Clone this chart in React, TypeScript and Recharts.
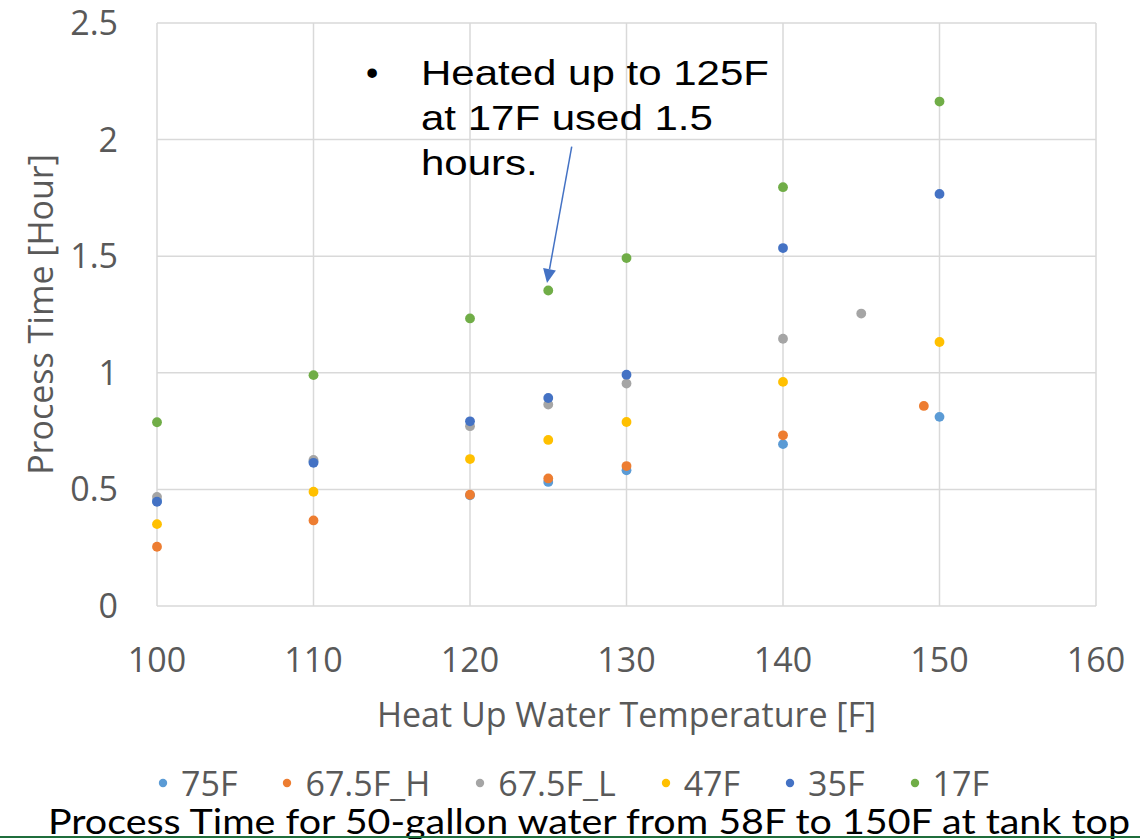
import React from 'react';
import { ScatterChart, Scatter, XAxis, YAxis, CartesianGrid, ReferenceLine } from 'recharts';

// Axis ticks
const xTicks = [100, 110, 120, 130, 140, 150, 160];
const yTicks = [0, 0.5, 1, 1.5, 2, 2.5];

// Series (ambient temperature) names and colours
const seriesNames = ['75F', '67.5F_H', '67.5F_L', '47F', '35F', '17F'];
const seriesColors = ['#5B9BD5', '#ED7D31', '#A5A5A5', '#FFC000', '#4472C4', '#70AD47'];

// Heat-up water temperature [F] and process time [hour] per series
const temps75F = [100, 110, 120, 125, 130, 140, 150];
const hours75F = [0.45, 0.62, 0.475, 0.532, 0.582, 0.694, 0.811];

const temps675H = [100, 110, 120, 125, 130, 140, 149];
const hours675H = [0.254, 0.367, 0.477, 0.547, 0.6, 0.732, 0.858];

const temps675L = [100, 110, 120, 125, 130, 140, 145];
const hours675L = [0.468, 0.626, 0.771, 0.864, 0.954, 1.146, 1.254];

const temps47F = [100, 110, 120, 125, 130, 140, 150];
const hours47F = [0.351, 0.49, 0.63, 0.712, 0.789, 0.961, 1.132];

const temps35F = [100, 110, 120, 125, 130, 140, 150];
const hours35F = [0.447, 0.614, 0.792, 0.892, 0.992, 1.535, 1.767];

const temps17F = [100, 110, 120, 125, 130, 140, 150];
const hours17F = [0.788, 0.99, 1.233, 1.353, 1.492, 1.796, 2.163];

// Callout arrow endpoints in data units
const arrowFrom = { x: 126.5, y: 1.97 };
const arrowTo = { x: 124.92, y: 1.385 };

const seriesTemps = [temps75F, temps675H, temps675L, temps47F, temps35F, temps17F];
const seriesHours = [hours75F, hours675H, hours675L, hours47F, hours35F, hours17F];

const seriesData = seriesNames.map((name, i) => ({
  name,
  color: seriesColors[i],
  points: seriesTemps[i].map((t, j) => ({ temp: t, hours: seriesHours[i][j] })),
}));

const FONT = '"Open Sans", Lato, sans-serif';
const GRAY = '#595959';

const Dot = (color: string) => (props: any) => (
  <circle cx={props.cx} cy={props.cy} r={4.9} fill={color} />
);

const ArrowShape = (props: any) => {
  const { x1, y1, x2, y2 } = props;
  const dx = x2 - x1;
  const dy = y2 - y1;
  const len = Math.sqrt(dx * dx + dy * dy);
  const ux = dx / len;
  const uy = dy / len;
  const headLen = 14;
  const headW = 6.5;
  const bx = x2 - ux * headLen;
  const by = y2 - uy * headLen;
  const px = -uy;
  const py = ux;
  return (
    <g>
      <line x1={x1} y1={y1} x2={bx} y2={by} stroke="#4472C4" strokeWidth={1.5} />
      <polygon
        points={`${x2},${y2} ${bx + px * headW},${by + py * headW} ${bx - px * headW},${by - py * headW}`}
        fill="#4472C4"
      />
    </g>
  );
};

const XTitle = (props: any) => {
  const vb = props.viewBox;
  return (
    <text
      x={vb.x + vb.width / 2}
      y={vb.y + 121}
      textAnchor="middle"
      fill={GRAY}
      fontSize={34}
      fontFamily={FONT}
    >
      Heat Up Water Temperature [F]
    </text>
  );
};

const YTitle = (props: any) => {
  const vb = props.viewBox;
  const cx = 53;
  const cy = vb.y + vb.height / 2;
  return (
    <text
      x={cx}
      y={cy}
      textAnchor="middle"
      transform={`rotate(-90, ${cx}, ${cy})`}
      fill={GRAY}
      fontSize={34}
      fontFamily={FONT}
    >
      Process Time [Hour]
    </text>
  );
};

export default function App() {
  return (
    <div style={{ position: 'absolute', left: 0, top: 0, width: 1147, height: 839, background: '#fff', overflow: 'hidden' }}>
      <ScatterChart width={1147} height={839} margin={{ top: 23, right: 51, bottom: 133, left: 0 }}>
        <CartesianGrid stroke="#d9d9d9" strokeWidth={1.5} />
        <XAxis
          type="number"
          dataKey="temp"
          domain={[100, 160]}
          ticks={xTicks}
          axisLine={false}
          tickLine={false}
          tickSize={0}
          tickMargin={42}
          height={100}
          tick={{ fill: GRAY, fontSize: 34, fontFamily: FONT }}
          label={XTitle}
        />
        <YAxis
          type="number"
          dataKey="hours"
          domain={[0, 2.5]}
          ticks={yTicks}
          axisLine={false}
          tickLine={false}
          tickSize={0}
          tickMargin={39}
          width={157}
          tick={{ fill: GRAY, fontSize: 34, fontFamily: FONT }}
          label={YTitle}
        />
        {seriesData.map((s) => (
          <Scatter
            key={s.name}
            name={s.name}
            data={s.points}
            fill={s.color}
            shape={Dot(s.color)}
            isAnimationActive={false}
          />
        ))}
        <ReferenceLine
          segment={[arrowFrom, arrowTo]}
          ifOverflow="visible"
          shape={ArrowShape}
        />
      </ScatterChart>

      {/* Callout note */}
      <div
        style={{
          position: 'absolute',
          left: 366,
          top: 50,
          fontFamily: '"Liberation Sans", Arial, sans-serif',
          fontSize: 35,
          lineHeight: '45px',
          color: '#000',
        }}
      >
        •
      </div>
      <div
        style={{
          position: 'absolute',
          left: 421,
          top: 50,
          fontFamily: '"Liberation Sans", Arial, sans-serif',
          fontSize: 35,
          lineHeight: '45px',
          color: '#000',
          transform: 'scaleX(1.2)',
          transformOrigin: 'left top',
          whiteSpace: 'nowrap',
        }}
      >
        Heated up to 125F
        <br />
        at 17F used 1.5
        <br />
        hours.
      </div>

      {/* Legend */}
      <div
        style={{
          position: 'absolute',
          left: 0,
          top: 768,
          width: 1147,
          display: 'flex',
          justifyContent: 'center',
          fontFamily: FONT,
          fontSize: 34,
          color: GRAY,
          lineHeight: '30px',
        }}
      >
        {seriesData.map((s, i) => (
          <div
            key={s.name}
            style={{ display: 'flex', alignItems: 'center', marginLeft: i === 0 ? 0 : 45 }}
          >
            <svg width={10} height={10} style={{ marginRight: 13 }}>
              <circle cx={5} cy={5} r={4.2} fill={s.color} />
            </svg>
            <span>{s.name}</span>
          </div>
        ))}
      </div>

      {/* Slide caption and rule */}
      <svg width={1147} height={839} style={{ position: 'absolute', left: 0, top: 0, pointerEvents: 'none' }}>
        <text
          x={48}
          y={834}
          fontFamily="Lato, sans-serif"
          fontSize={35}
          fill="#000"
          textLength={1082}
          lengthAdjust="spacingAndGlyphs"
        >
          Process Time for 50-gallon water from 58F to 150F at tank top
        </text>
        <line x1={0} y1={837} x2={1140} y2={837} stroke="#1f6e3c" strokeWidth={2} />
      </svg>
    </div>
  );
}
